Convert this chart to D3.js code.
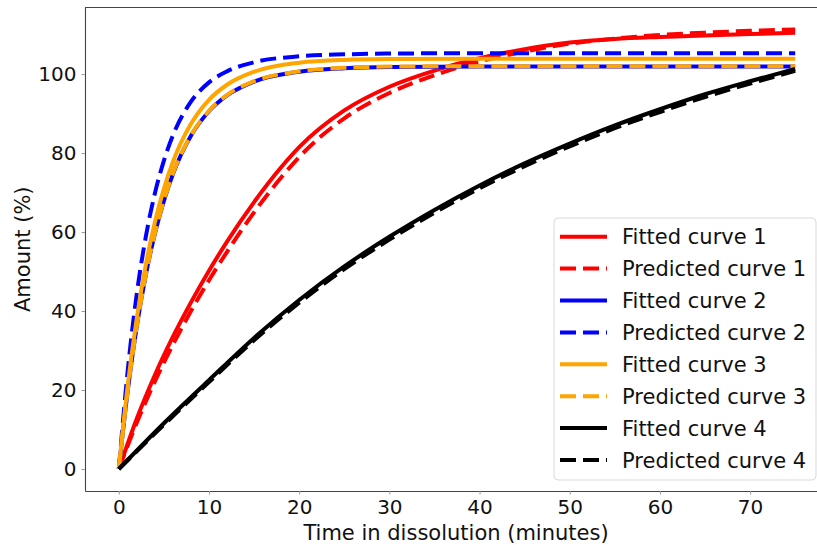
<!DOCTYPE html>
<html>
<head>
<meta charset="utf-8">
<script src="https://cdn.jsdelivr.net/npm/d3@7"></script>
<style>
  html, body { margin: 0; padding: 0; background: #fff; }
  svg { display: block; font-family: 'DejaVu Sans', sans-serif; }
</style>
</head>
<body>
<svg id="chart" width="817" height="545"></svg>
<script>
// time points (minutes) and amounts (%)
var tFast = [0, 1, 2, 3, 4, 5, 6, 8, 10, 12, 15, 20, 25, 30, 40, 50, 60, 75];
var fitted2    = [0, 20.0, 36.2, 49.2, 59.6, 67.9, 74.7, 84.4, 90.6, 94.6, 98.1, 100.6, 101.5, 101.8, 101.9, 101.9, 101.9, 101.9];
var predicted2 = [0, 25.2, 44.5, 58.9, 69.8, 78.1, 84.5, 93.0, 97.9, 100.7, 103.0, 104.5, 105.0, 105.2, 105.3, 105.3, 105.3, 105.3];
var fitted3    = [0, 21.4, 38.3, 51.8, 62.5, 71.0, 77.8, 87.4, 93.5, 97.3, 100.6, 102.9, 103.6, 103.8, 103.9, 103.9, 103.9, 103.9];
var predicted3 = [0, 20.1, 36.3, 49.3, 59.7, 68.0, 74.8, 84.5, 90.7, 94.7, 98.2, 100.7, 101.6, 101.9, 102.0, 102.0, 102.0, 102.0];

var tSlow = [0, 2, 4, 6, 8, 10, 12, 15, 18, 20, 25, 30, 35, 40, 45, 50, 55, 60, 65, 70, 75];
var fitted1    = [0, 12.8, 23.8, 33.5, 42.2, 50.2, 57.6, 67.6, 76.4, 81.5, 90.8, 96.8, 100.9, 104.0, 106.3, 108.0, 108.9, 109.4, 109.8, 110.15, 110.45];
var predicted1 = [0, 11.8, 22.2, 31.5, 40.0, 47.8, 55.0, 65.0, 73.8, 79.0, 88.8, 95.2, 99.7, 103.2, 105.7, 107.7, 109.0, 109.9, 110.5, 110.95, 111.3];

var tBlack = [0, 5, 10, 15, 20, 25, 30, 35, 40, 45, 50, 55, 60, 65, 70, 75];
var fitted4    = [0, 11.6, 22.5, 33.2, 42.8, 51.3, 58.8, 65.6, 71.8, 77.4, 82.4, 87.0, 91.1, 94.9, 98.2, 101.3];
var predicted4 = [0, 11.2, 22.0, 32.6, 42.1, 50.6, 58.1, 64.9, 71.1, 76.7, 81.7, 86.3, 90.4, 94.2, 97.6, 100.8];

var seriesNames  = ['Fitted curve 1', 'Predicted curve 1', 'Fitted curve 2', 'Predicted curve 2',
                    'Fitted curve 3', 'Predicted curve 3', 'Fitted curve 4', 'Predicted curve 4'];
var seriesColors = ['red', 'red', 'blue', 'blue', 'orange', 'orange', 'black', 'black'];
var seriesDashed = [false, true, false, true, false, true, false, true];
var seriesTimes  = [tSlow, tSlow, tFast, tFast, tFast, tFast, tBlack, tBlack];
var seriesValues = [fitted1, predicted1, fitted2, predicted2, fitted3, predicted3, fitted4, predicted4];

var xTicks = [0, 10, 20, 30, 40, 50, 60, 70];
var yTicks = [0, 20, 40, 60, 80, 100];

var series = seriesNames.map(function(name, i) {
  return {
    name: name, color: seriesColors[i], dashed: seriesDashed[i],
    points: seriesTimes[i].map(function(t, j) { return [t, seriesValues[i][j]]; })
  };
});

var svg = d3.select('#chart');
var plotLeft = 85, plotRight = 829, plotTop = 7.5, plotBottom = 491;

// matplotlib style 5% margins
var xMax = d3.max(series, function(s) { return d3.max(s.points, function(p) { return p[0]; }); });
var yMax = d3.max(series, function(s) { return d3.max(s.points, function(p) { return p[1]; }); });
var x = d3.scaleLinear().domain([-0.05 * xMax, 1.05 * xMax]).range([plotLeft, plotRight]);
var y = d3.scaleLinear().domain([-0.05 * yMax, 1.05 * yMax]).range([plotBottom, plotTop]);

var clip = svg.append('clipPath').attr('id', 'plot-clip');
clip.append('rect')
  .attr('x', plotLeft).attr('y', plotTop)
  .attr('width', plotRight - plotLeft).attr('height', plotBottom - plotTop);

var line = d3.line()
  .x(function(p) { return x(p[0]); })
  .y(function(p) { return y(p[1]); })
  .curve(d3.curveMonotoneX);

var plot = svg.append('g').attr('clip-path', 'url(#plot-clip)');
plot.selectAll('path.curve')
  .data(series)
  .enter()
    .append('path')
      .attr('class', 'curve')
      .attr('d', function(s) { return line(s.points); })
      .attr('fill', 'none')
      .attr('stroke', function(s) { return s.color; })
      .attr('stroke-width', 4)
      .attr('stroke-dasharray', function(s) { return s.dashed ? '16,7' : null; });

// axes
var xAxis = svg.append('g')
  .attr('transform', 'translate(0,' + plotBottom + ')')
  .call(d3.axisBottom(x).tickValues(xTicks).tickSize(3.5).tickPadding(5).tickSizeOuter(0));
var yAxis = svg.append('g')
  .attr('transform', 'translate(' + plotLeft + ',0)')
  .call(d3.axisLeft(y).tickValues(yTicks).tickSize(3.5).tickPadding(5).tickSizeOuter(0));

[xAxis, yAxis].forEach(function(a) {
  a.select('.domain').attr('stroke', '#444').attr('stroke-width', 1.1);
  a.selectAll('.tick line').attr('stroke', '#999').attr('stroke-width', 1);
  a.selectAll('.tick text').attr('font-size', 20).attr('fill', '#111')
    .attr('font-family', "'DejaVu Sans', sans-serif");
});

// top spine
svg.append('line')
  .attr('x1', plotLeft).attr('x2', plotRight).attr('y1', plotTop).attr('y2', plotTop)
  .attr('stroke', '#444').attr('stroke-width', 1.1);

svg.append('text')
  .attr('x', (plotLeft + plotRight) / 2 - 1).attr('y', 539.5)
  .attr('text-anchor', 'middle').attr('font-size', 21).attr('fill', '#111')
  .text('Time in dissolution (minutes)');

svg.append('text')
  .attr('transform', 'translate(30,' + ((plotTop + plotBottom) / 2) + ') rotate(-90)')
  .attr('text-anchor', 'middle').attr('font-size', 21).attr('fill', '#111')
  .text('Amount (%)');

// legend
var legend = svg.append('g');
legend.append('rect')
  .attr('x', 554).attr('y', 218).attr('width', 262).attr('height', 262)
  .attr('rx', 4).attr('ry', 4)
  .attr('fill', 'rgba(255,255,255,0.8)').attr('stroke', '#d9d9d9').attr('stroke-width', 1);

var rows = legend.selectAll('g.row')
  .data(series)
  .enter()
    .append('g')
      .attr('class', 'row')
      .attr('transform', function(s, i) { return 'translate(0,' + (236.7 + i * 31.9) + ')'; });

rows.append('line')
  .attr('x1', 560).attr('x2', 607).attr('y1', 0).attr('y2', 0)
  .attr('stroke', function(s) { return s.color; })
  .attr('stroke-width', 4)
  .attr('stroke-dasharray', function(s) { return s.dashed ? '16,7' : null; });

rows.append('text')
  .attr('x', 622).attr('y', 7.5)
  .attr('font-size', 21).attr('fill', '#111')
  .text(function(s) { return s.name; });
</script>
</body>
</html>
